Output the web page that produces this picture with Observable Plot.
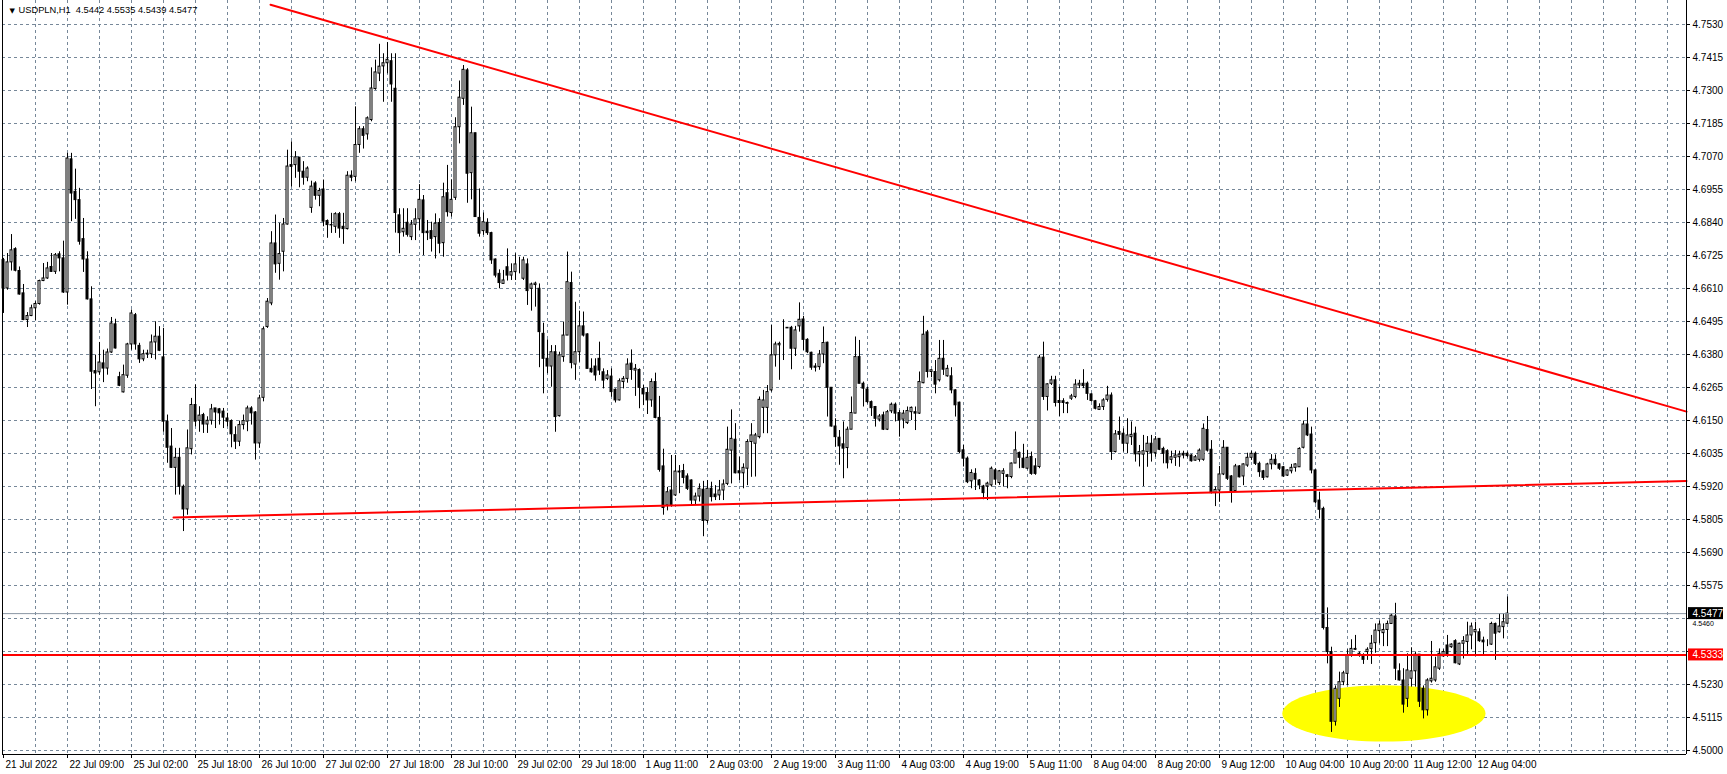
<!DOCTYPE html>
<html><head><meta charset="utf-8">
<script src="https://cdn.jsdelivr.net/npm/d3@7"></script>
<script src="https://cdn.jsdelivr.net/npm/@observablehq/plot@0.6"></script>
<style>
html,body{margin:0;padding:0;background:#fff;overflow:hidden}
#chart svg{display:block}
</style></head><body><div id="chart"></div>
<script>
// ---- data (USDPLN, H1 bars, index 0 = first visible bar) ----
const headerText = "USDPLN,H1\u00a0\u00a04.5442 4.5535 4.5439 4.5477";
const opens = [
4.6709,4.6610,4.6701,4.6747,4.6671,4.6593,4.6500,4.6514,4.6541,4.6556,
4.6636,4.6645,4.6685,4.6668,4.6729,4.6715,4.6596,4.7060,4.6947,4.6918,
4.6782,4.6711,4.6572,4.6322,4.6318,4.6349,4.6331,4.6387,4.6485,4.6301,
4.6248,4.6306,4.6415,4.6517,4.6410,4.6363,4.6381,4.6381,4.6422,4.6442,
4.6370,4.6146,4.6059,4.5985,4.6020,4.5919,4.5840,4.6050,4.6204,4.6149,
4.6169,4.6136,4.6149,4.6192,4.6189,4.6181,4.6157,4.6148,4.6099,4.6076,
4.6134,4.6146,4.6192,4.6178,4.6070,4.6229,4.6476,4.6558,4.6767,4.6696,
4.6738,4.6833,4.7040,4.7040,4.7066,4.7017,4.6996,4.6891,4.6976,4.6933,
4.6955,4.6845,4.6831,4.6825,4.6869,4.6825,4.6817,4.7003,4.6999,4.7110,
4.7165,4.7147,4.7197,4.7305,4.7359,4.7384,4.7395,4.7402,4.7306,4.6865,
4.6806,4.6839,4.6789,4.6832,4.6851,4.6917,4.6808,4.6810,4.6789,4.6838,
4.6768,4.6942,4.6873,4.6926,4.7172,4.7271,4.7370,4.7012,4.7151,4.6856,
4.6810,4.6839,4.6803,4.6711,4.6661,4.6626,4.6684,4.6655,4.6667,4.6689,
4.6644,4.6694,4.6609,4.6622,4.6609,4.6452,4.6365,4.6338,4.6388,4.6165,
4.6371,4.6446,4.6629,4.6345,4.6388,4.6478,4.6450,4.6330,4.6338,4.6365,
4.6318,4.6295,4.6303,4.6257,4.6220,4.6284,4.6295,4.6348,4.6324,4.6326,
4.6260,4.6246,4.6220,4.6284,4.6159,4.5990,4.5854,4.5906,4.5889,4.5972,
4.5974,4.5955,4.5941,4.5871,4.5885,4.5909,4.5800,4.5912,4.5892,4.5889,
4.5906,4.5929,4.6045,4.6083,4.5973,4.5966,4.5982,4.6075,4.6069,4.6092,
4.6194,4.6194,4.6255,4.6377,4.6412,4.6406,4.6473,4.6473,4.6400,4.6478,
4.6502,4.6431,4.6386,4.6338,4.6336,4.6380,4.6421,4.6264,4.6129,4.6090,
4.6067,4.6054,4.6118,4.6174,4.6371,4.6278,4.6258,4.6214,4.6197,4.6153,
4.6168,4.6118,4.6182,4.6205,4.6176,4.6153,4.6141,4.6179,4.6179,4.6174,
4.6280,4.6457,4.6319,4.6319,4.6290,4.6365,4.6304,4.6304,4.6255,4.6212,
4.6046,4.6017,4.5938,4.5964,4.5941,4.5920,4.5920,4.5924,4.5976,4.5932,
4.5964,4.5959,4.5953,4.6000,4.6037,4.6017,4.5982,4.6023,4.5990,4.5988,
4.6369,4.6232,4.6278,4.6290,4.6218,4.6217,4.6208,4.6226,4.6232,4.6272,
4.6278,4.6278,4.6241,4.6217,4.6187,4.6197,4.6222,4.6237,4.6040,4.6110,
4.6104,4.6069,4.6092,4.6104,4.6032,4.6031,4.6040,4.6069,4.6036,4.6086,
4.6051,4.6043,4.6013,4.6020,4.6022,4.6034,4.6034,4.6028,4.6010,4.6013,
4.6013,4.6117,4.6048,4.5897,4.5906,4.5962,4.6055,4.5955,4.5904,4.5990,
4.5955,4.5993,4.6020,4.6034,4.5999,4.5973,4.5952,4.5997,4.6013,4.5997,
4.5987,4.5958,4.5973,4.5985,4.5987,4.6055,4.6136,4.6101,4.5976,4.5871,
4.5842,4.5427,4.5343,4.5100,4.5180,4.5238,4.5267,4.5331,4.5354,4.5331,
4.5328,4.5343,4.5354,4.5374,4.5416,4.5409,4.5420,4.5441,4.5467,4.5276,
4.5244,4.5180,4.5250,4.5276,4.5334,4.5215,4.5140,4.5241,4.5244,4.5285,
4.5328,4.5366,4.5360,4.5381,4.5300,4.5372,4.5378,4.5401,4.5412,4.5412,
4.5383,4.5372,4.5369,4.5441,4.5412,4.5430,4.5442];
const highs = [
4.6715,4.6732,4.6798,4.6752,4.6685,4.6624,4.6526,4.6552,4.6564,4.6639,
4.6697,4.6701,4.6732,4.6732,4.6738,4.6775,4.7081,4.7081,4.7026,4.6959,
4.6854,4.6738,4.6616,4.6378,4.6422,4.6395,4.6399,4.6509,4.6503,4.6318,
4.6343,4.6419,4.6535,4.6523,4.6419,4.6395,4.6395,4.6448,4.6494,4.6477,
4.6471,4.6169,4.6122,4.6053,4.6053,4.5925,4.6117,4.6227,4.6274,4.6198,
4.6175,4.6163,4.6206,4.6192,4.6192,4.6192,4.6175,4.6152,4.6128,4.6148,
4.6169,4.6200,4.6198,4.6181,4.6238,4.6476,4.6575,4.6808,4.6866,4.6837,
4.6854,4.7092,4.7121,4.7087,4.7066,4.7052,4.7034,4.6984,4.6982,4.6959,
4.6988,4.6849,4.6872,4.6874,4.6875,4.6872,4.7017,4.7020,4.7243,4.7174,
4.7174,4.7208,4.7379,4.7406,4.7461,4.7428,4.7467,4.7428,4.7428,4.6888,
4.6888,4.6888,4.6847,4.6888,4.6972,4.6934,4.6847,4.6841,4.6870,4.6853,
4.6977,4.7039,4.6989,4.7205,4.7333,4.7387,4.7376,4.7242,4.7151,4.6957,
4.6873,4.6853,4.6806,4.6713,4.6675,4.6673,4.6748,4.6696,4.6731,4.6719,
4.6719,4.6713,4.6629,4.6632,4.6626,4.6489,4.6431,4.6411,4.6411,4.6388,
4.6493,4.6737,4.6667,4.6562,4.6531,4.6528,4.6452,4.6365,4.6365,4.6423,
4.6330,4.6324,4.6330,4.6260,4.6295,4.6303,4.6365,4.6396,4.6345,4.6330,
4.6272,4.6264,4.6295,4.6315,4.6234,4.6050,4.5917,4.6028,4.6028,4.5993,
4.5997,4.5964,4.5943,4.5897,4.5929,4.5938,4.5941,4.5935,4.5923,4.5941,
4.5943,4.6127,4.6187,4.6139,4.6022,4.5999,4.6083,4.6139,4.6105,4.6232,
4.6255,4.6272,4.6481,4.6423,4.6423,4.6501,4.6473,4.6478,4.6478,4.6560,
4.6513,4.6435,4.6388,4.6348,4.6394,4.6476,4.6423,4.6264,4.6156,4.6115,
4.6145,4.6127,4.6232,4.6441,4.6429,4.6284,4.6266,4.6218,4.6199,4.6171,
4.6179,4.6185,4.6211,4.6211,4.6185,4.6185,4.6197,4.6197,4.6197,4.6319,
4.6513,4.6464,4.6327,4.6359,4.6429,4.6429,4.6342,4.6334,4.6257,4.6214,
4.6063,4.6023,4.5978,4.5982,4.5944,4.5924,4.5935,4.5988,4.5982,4.5976,
4.5982,4.5962,4.6002,4.6110,4.6040,4.6067,4.6046,4.6040,4.6017,4.6377,
4.6423,4.6278,4.6304,4.6304,4.6266,4.6226,4.6214,4.6241,4.6292,4.6290,
4.6327,4.6284,4.6243,4.6220,4.6208,4.6226,4.6269,4.6246,4.6115,4.6162,
4.6121,4.6156,4.6145,4.6127,4.6063,4.6098,4.6094,4.6098,4.6094,4.6086,
4.6057,4.6048,4.6043,4.6045,4.6043,4.6043,4.6040,4.6031,4.6028,4.6051,
4.6138,4.6164,4.6080,4.5918,4.5990,4.6080,4.6055,4.5958,4.5997,4.5993,
4.5999,4.6036,4.6043,4.6040,4.6005,4.5976,4.6001,4.6031,4.6030,4.5999,
4.5990,4.5978,4.5997,4.5999,4.6055,4.6148,4.6194,4.6127,4.5978,4.5900,
4.5848,4.5497,4.5360,4.5225,4.5273,4.5276,4.5351,4.5386,4.5401,4.5343,
4.5337,4.5358,4.5401,4.5441,4.5451,4.5441,4.5451,4.5476,4.5513,4.5302,
4.5285,4.5337,4.5358,4.5343,4.5334,4.5225,4.5250,4.5380,4.5325,4.5354,
4.5351,4.5401,4.5372,4.5386,4.5374,4.5397,4.5447,4.5444,4.5447,4.5424,
4.5395,4.5386,4.5447,4.5444,4.5476,4.5476,4.5535];
const lows = [
4.6523,4.6604,4.6671,4.6668,4.6587,4.6498,4.6474,4.6512,4.6498,4.6552,
4.6634,4.6642,4.6666,4.6659,4.6668,4.6593,4.6552,4.6843,4.6851,4.6761,
4.6666,4.6570,4.6258,4.6198,4.6308,4.6282,4.6308,4.6384,4.6399,4.6268,
4.6246,4.6297,4.6395,4.6395,4.6349,4.6355,4.6366,4.6366,4.6361,4.6390,
4.6109,4.6001,4.5983,4.5890,4.5890,4.5763,4.5820,4.6030,4.6128,4.6109,
4.6105,4.6105,4.6134,4.6122,4.6134,4.6122,4.6128,4.6055,4.6049,4.6059,
4.6117,4.6111,4.6134,4.6012,4.6053,4.6215,4.6471,4.6550,4.6663,4.6639,
4.6668,4.6831,4.6964,4.6994,4.6961,4.6970,4.6982,4.6872,4.6918,4.6895,
4.6825,4.6785,4.6802,4.6802,4.6785,4.6764,4.6814,4.6982,4.6982,4.7081,
4.7096,4.7127,4.7191,4.7301,4.7331,4.7259,4.7358,4.7259,4.6803,4.6731,
4.6789,4.6789,4.6777,4.6777,4.6812,4.6725,4.6777,4.6737,4.6713,4.6731,
4.6719,4.6859,4.6859,4.6917,4.7114,4.7248,4.6907,4.6919,4.6859,4.6789,
4.6795,4.6795,4.6694,4.6647,4.6609,4.6626,4.6636,4.6638,4.6638,4.6661,
4.6638,4.6551,4.6531,4.6545,4.6334,4.6243,4.6313,4.6266,4.6109,4.6162,
4.6353,4.6446,4.6330,4.6290,4.6353,4.6441,4.6330,4.6315,4.6287,4.6307,
4.6260,4.6289,4.6231,4.6211,4.6218,4.6260,4.6280,4.6290,4.6234,4.6191,
4.6202,4.6171,4.6196,4.6156,4.5970,4.5820,4.5835,4.5848,4.5885,4.5895,
4.5929,4.5906,4.5854,4.5854,4.5866,4.5745,4.5790,4.5866,4.5871,4.5871,
4.5871,4.5923,4.5929,4.5964,4.5941,4.5912,4.5923,4.5952,4.5953,4.6086,
4.6104,4.6104,4.6249,4.6336,4.6290,4.6359,4.6471,4.6327,4.6373,4.6458,
4.6394,4.6383,4.6325,4.6319,4.6325,4.6348,4.6162,4.6127,4.6057,4.5994,
4.5947,4.5982,4.6118,4.6174,4.6278,4.6197,4.6208,4.6164,4.6127,4.6145,
4.6115,4.6115,4.6174,4.6145,4.6092,4.6121,4.6136,4.6150,4.6115,4.6171,
4.6278,4.6298,4.6299,4.6243,4.6284,4.6307,4.6301,4.6243,4.6162,4.6034,
4.5988,4.5930,4.5912,4.5906,4.5909,4.5874,4.5871,4.5918,4.5924,4.5924,
4.5918,4.5912,4.5947,4.6000,4.5982,4.5982,4.5978,4.5959,4.5959,4.5982,
4.6220,4.6183,4.6272,4.6197,4.6164,4.6174,4.6174,4.6220,4.6226,4.6261,
4.6261,4.6220,4.6214,4.6187,4.6185,4.6185,4.6214,4.6011,4.6037,4.6081,
4.6040,4.6034,4.6063,4.6005,4.5988,4.5920,4.5987,4.6005,4.6022,4.6045,
4.5999,4.5981,4.5999,4.5990,4.5987,4.6016,4.6020,4.6005,4.6008,4.6005,
4.6008,4.6040,4.5894,4.5850,4.5865,4.5958,4.5941,4.5862,4.5900,4.5950,
4.5923,4.5987,4.6011,4.5993,4.5952,4.5941,4.5950,4.5978,4.5993,4.5976,
4.5952,4.5955,4.5964,4.5970,4.5987,4.6051,4.6094,4.5964,4.5859,4.5807,
4.5420,4.5302,4.5063,4.5085,4.5150,4.5226,4.5226,4.5325,4.5349,4.5325,
4.5300,4.5314,4.5300,4.5339,4.5372,4.5362,4.5362,4.5439,4.5244,4.5242,
4.5130,4.5150,4.5221,4.5221,4.5150,4.5110,4.5120,4.5235,4.5238,4.5279,
4.5325,4.5325,4.5356,4.5302,4.5296,4.5319,4.5331,4.5351,4.5328,4.5377,
4.5334,4.5362,4.5366,4.5314,4.5409,4.5389,4.5439];
const closes = [
4.6610,4.6701,4.6743,4.6672,4.6589,4.6500,4.6514,4.6541,4.6556,4.6636,
4.6645,4.6680,4.6668,4.6726,4.6715,4.6596,4.7063,4.6941,4.6918,4.6773,
4.6711,4.6572,4.6320,4.6314,4.6352,4.6331,4.6387,4.6488,4.6401,4.6271,
4.6308,4.6415,4.6523,4.6415,4.6363,4.6381,4.6383,4.6422,4.6442,4.6393,
4.6146,4.6055,4.5985,4.6020,4.5919,4.5840,4.6053,4.6204,4.6146,4.6167,
4.6136,4.6149,4.6189,4.6178,4.6175,4.6160,4.6146,4.6102,4.6076,4.6134,
4.6148,4.6192,4.6175,4.6070,4.6227,4.6468,4.6564,4.6767,4.6694,4.6730,
4.6833,4.7035,4.7034,4.7067,4.7017,4.6996,4.7028,4.6965,4.6933,4.6950,
4.6843,4.6831,4.6830,4.6869,4.6819,4.6817,4.7003,4.6996,4.7110,4.7165,
4.7142,4.7203,4.7307,4.7363,4.7383,4.7395,4.7407,4.7321,4.6873,4.6803,
4.6818,4.6797,4.6833,4.6851,4.6919,4.6803,4.6803,4.6783,4.6836,4.6766,
4.6928,4.6876,4.6919,4.7172,4.7275,4.7372,4.7010,4.7151,4.6859,4.6801,
4.6841,4.6803,4.6708,4.6655,4.6629,4.6638,4.6655,4.6667,4.6694,4.6689,
4.6708,4.6601,4.6624,4.6627,4.6458,4.6365,4.6338,4.6388,4.6162,4.6377,
4.6446,4.6632,4.6350,4.6388,4.6478,4.6446,4.6330,4.6318,4.6307,4.6324,
4.6289,4.6307,4.6249,4.6220,4.6287,4.6295,4.6345,4.6326,4.6330,4.6264,
4.6241,4.6220,4.6284,4.6159,4.5978,4.5845,4.5900,4.5854,4.5972,4.5969,
4.5950,4.5912,4.5871,4.5885,4.5912,4.5800,4.5912,4.5883,4.5883,4.5906,
4.5927,4.6048,4.6086,4.5966,4.5966,4.5985,4.6075,4.6098,4.6098,4.6222,
4.6220,4.6249,4.6377,4.6415,4.6417,4.6406,4.6471,4.6400,4.6464,4.6501,
4.6431,4.6388,4.6334,4.6334,4.6380,4.6420,4.6264,4.6129,4.6092,4.6060,
4.6052,4.6118,4.6176,4.6371,4.6278,4.6261,4.6214,4.6193,4.6156,4.6164,
4.6118,4.6179,4.6205,4.6174,4.6150,4.6174,4.6183,4.6194,4.6174,4.6284,
4.6449,4.6319,4.6325,4.6275,4.6365,4.6327,4.6330,4.6255,4.6203,4.6040,
4.6017,4.5935,4.5967,4.5944,4.5924,4.5897,4.5930,4.5982,4.5944,4.5973,
4.5973,4.5953,4.6000,4.6046,4.6020,4.5985,4.6020,4.5964,4.5964,4.6369,
4.6232,4.6276,4.6290,4.6211,4.6211,4.6211,4.6211,4.6234,4.6275,4.6278,
4.6270,4.6243,4.6218,4.6191,4.6197,4.6220,4.6237,4.6040,4.6102,4.6100,
4.6069,4.6098,4.6100,4.6032,4.6040,4.6043,4.6069,4.6036,4.6084,4.6048,
4.6034,4.6001,4.6022,4.6028,4.6031,4.6028,4.6026,4.6008,4.6022,4.6045,
4.6121,4.6045,4.5897,4.5908,4.5962,4.6055,4.5947,4.5904,4.5990,4.5952,
4.5997,4.6020,4.6034,4.5999,4.5970,4.5950,4.5997,4.6013,4.5997,4.5982,
4.5955,4.5976,4.5985,4.5997,4.6051,4.6136,4.6098,4.5976,4.5865,4.5839,
4.5427,4.5343,4.5100,4.5215,4.5238,4.5269,4.5331,4.5354,4.5351,4.5337,
4.5316,4.5351,4.5372,4.5418,4.5439,4.5420,4.5441,4.5470,4.5285,4.5244,
4.5160,4.5279,4.5276,4.5334,4.5170,4.5140,4.5244,4.5250,4.5290,4.5337,
4.5343,4.5331,4.5369,4.5304,4.5372,4.5381,4.5401,4.5432,4.5420,4.5381,
4.5377,4.5372,4.5441,4.5407,4.5432,4.5447,4.5477];

// time axis labels (bar index of each label) and price ticks
const timeTickBars = [0,16,32,48,64,80,96,112,128,144,160,176,192,208,224,240,256,272,288,304,320,336,352,368];
const timeTickLabels = ["21 Jul 2022","22 Jul 09:00","25 Jul 02:00","25 Jul 18:00","26 Jul 10:00","27 Jul 02:00","27 Jul 18:00","28 Jul 10:00","29 Jul 02:00","29 Jul 18:00","1 Aug 11:00","2 Aug 03:00","2 Aug 19:00","3 Aug 11:00","4 Aug 03:00","4 Aug 19:00","5 Aug 11:00","8 Aug 04:00","8 Aug 20:00","9 Aug 12:00","10 Aug 04:00","10 Aug 20:00","11 Aug 12:00","12 Aug 04:00"];
const gridBars = [8,16,24,32,40,48,56,64,72,80,88,96,104,112,120,128,136,144,152,160,168,176,184,192,200,208,216,224,232,240,248,256,264,272,280,288,296,304,312,320,328,336,344,352,360,368,376,384,392,400,408,416];
const priceTicks = [4.5000,4.5115,4.5230,4.5345,4.5460,4.5575,4.5690,4.5805,4.5920,4.6035,4.6150,4.6265,4.6380,4.6495,4.6610,4.6725,4.6840,4.6955,4.7070,4.7185,4.7300,4.7415,4.7530];

// annotations
const bidPrice = 4.5477;
const levelPrice = 4.5333;
const upperTrendBars = [66.75, 420.75];
const upperTrendPrices = [4.7599, 4.6181];
const lowerTrendBars = [42.5, 420.75];
const lowerTrendPrices = [4.5812, 4.5939];
const zoneCenterBar = 345.1, zoneCenterPrice = 4.5129, zoneRadiusBars = 25.4, zoneRadiusPrice = 0.0098;

// ---- chart ----
const W = 1727, H = 774;
const pxPerUnit = 33 / 0.0115;           // 33 px per price grid step
const xDomain = [-0.25, 420.75];
const yDomain = [4.5 - 4 / pxPerUnit, 4.5 + 750 / pxPerUnit];
const pY = px => px / pxPerUnit;          // pixel -> price units
const pX = px => px / 4;                  // pixel -> bar units

const candles = opens.map((o, i) => ({i, open: o, high: highs[i], low: lows[i], close: closes[i]}));
const bulls = candles.filter(d => d.close >= d.open);
const bears = candles.filter(d => d.close < d.open);
const ticks = timeTickBars.map((b, k) => ({bar: b, label: timeTickLabels[k]}));
const upperTrend = upperTrendBars.map((b, k) => ({bar: b, price: upperTrendPrices[k]}));
const lowerTrend = lowerTrendBars.map((b, k) => ({bar: b, price: lowerTrendPrices[k]}));
const zone = d3.range(0, 73).map(k => {
  const a = k / 72 * 2 * Math.PI;
  return {bar: zoneCenterBar + zoneRadiusBars * Math.cos(a), price: zoneCenterPrice + zoneRadiusPrice * Math.sin(a)};
});
const xMax = xDomain[1], yMin = yDomain[0];
const gridColor = "#778899";
// tick labels under the price boxes: the one under the level box is fully hidden,
// the one under the bid box peeks out below it (as in the terminal)
const hiddenTicks = priceTicks.filter(t => Math.abs(t - levelPrice) < pY(11));
const peekTicks = priceTicks.filter(t => Math.abs(t - bidPrice) < pY(11));
const axisTicks = priceTicks.filter(t => !hiddenTicks.includes(t) && !peekTicks.includes(t));

const chart = Plot.plot({
  width: W, height: H,
  marginLeft: 2, marginRight: 41, marginTop: 0, marginBottom: 20,
  x: {type: "linear", domain: xDomain, axis: null},
  y: {type: "linear", domain: yDomain, axis: null},
  style: {fontFamily: "'Liberation Sans', Arial, sans-serif", fontSize: "10px", background: "#fff", color: "black", overflow: "visible"},
  marks: [
    // grid
    Plot.ruleY(priceTicks, {y: d => d, stroke: gridColor, strokeDasharray: "3,3"}),
    Plot.ruleX(gridBars, {x: d => d, stroke: gridColor, strokeDasharray: "3,3"}),
    // highlighted zone
    Plot.line(zone, {x: "bar", y: "price", fill: "#ffff00", stroke: "none", curve: "linear-closed"}),
    // candles
    Plot.ruleX(candles, {x: "i", y1: "low", y2: "high", stroke: "black"}),
    Plot.rect(bulls, {x1: d => d.i - 0.25, x2: d => d.i + 0.25, y1: "open", y2: "close", fill: "white", stroke: "black"}),
    Plot.rect(bears, {x1: d => d.i - 0.25, x2: d => d.i + 0.25, y1: "open", y2: "close", fill: "black", stroke: "black"}),
    // trend lines & levels
    Plot.line(upperTrend, {x: "bar", y: "price", stroke: "#ff0000", strokeWidth: 2}),
    Plot.line(lowerTrend, {x: "bar", y: "price", stroke: "#ff0000", strokeWidth: 2}),
    Plot.ruleY([levelPrice], {y: d => d, stroke: "#ff0000", strokeWidth: 2}),
    Plot.ruleY([bidPrice], {y: d => d, stroke: "#8a96a3"}),
    // frame (left, right, bottom)
    Plot.ruleX([xDomain[0], xMax], {x: d => d, stroke: "black"}),
    Plot.ruleY([yMin], {y: d => d, stroke: "black", x1: xDomain[0], x2: xMax}),
    // price axis (right)
    Plot.ruleY(priceTicks, {y: d => d, x1: xMax, x2: xMax + pX(4), stroke: "black"}),
    Plot.text(axisTicks, {x: xMax, y: d => d, text: d => d.toFixed(4), textAnchor: "start", dx: 6, fill: "black"}),
    Plot.text(peekTicks, {x: xMax, y: d => d, text: d => d.toFixed(4), textAnchor: "start", dx: 6, dy: 5, fontSize: 7, fill: "black"}),
    // price labels for bid and level line
    Plot.rect([bidPrice], {x1: xMax + pX(2), x2: xMax + pX(37), y1: d => d - pY(6), y2: d => d + pY(6), fill: "black"}),
    Plot.text([bidPrice], {x: xMax, y: d => d, text: d => d.toFixed(4), textAnchor: "start", dx: 6, fill: "white"}),
    Plot.rect([levelPrice], {x1: xMax + pX(2), x2: xMax + pX(37), y1: d => d - pY(6), y2: d => d + pY(6), fill: "#ff0000"}),
    Plot.text([levelPrice], {x: xMax, y: d => d, text: d => d.toFixed(4), textAnchor: "start", dx: 6, fill: "white"}),
    // time axis (bottom)
    Plot.ruleX(ticks, {x: "bar", y1: yMin, y2: yMin - pY(4), stroke: "black"}),
    Plot.text(ticks, {x: "bar", y: yMin, text: "label", textAnchor: "start", dx: 2, dy: 10, fill: "black"}),
    // header
    Plot.text(["\u25BC"], {frameAnchor: "top-left", dx: 7, dy: 10, lineAnchor: "middle", fontSize: 7, fontFamily: "DejaVu Sans", fill: "black"}),
    Plot.text([headerText], {frameAnchor: "top-left", dx: 16, dy: 10, lineAnchor: "middle", textAnchor: "start", fontSize: 9.3, fill: "black"})
  ]
});
document.getElementById("chart").appendChild(chart);
</script>
</body></html>
